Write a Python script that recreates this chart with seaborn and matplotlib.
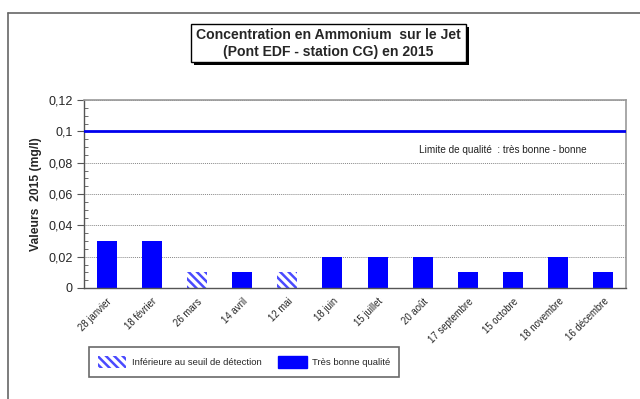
import matplotlib
matplotlib.use("Agg")
import matplotlib.pyplot as plt
import seaborn as sns
import pandas as pd
from matplotlib.patches import Rectangle, Patch
from matplotlib.lines import Line2D
from matplotlib.ticker import MultipleLocator, FixedLocator, FuncFormatter

dates = ["28 janvier", "18 février", "26 mars", "14 avril", "12 mai", "18 juin",
         "15 juillet", "20 août", "17 septembre", "15 octobre", "18 novembre", "16 décembre"]
values = [0.03, 0.03, 0.01, 0.01, 0.01, 0.02, 0.02, 0.02, 0.01, 0.01, 0.02, 0.01]
below_detection = [False, False, True, False, True, False, False, False, False, False, False, False]
limit_value = 0.1
title = "Concentration en Ammonium  sur le Jet\n(Pont EDF - station CG) en 2015"
ylabel = "Valeurs  2015 (mg/l)"
limit_label = "Limite de qualité  : très bonne - bonne"
legend_labels = ["Inférieure au seuil de détection", "Très bonne qualité"]

sns.set_style("white")
plt.rcParams["font.family"] = ["Liberation Sans", "DejaVu Sans"]
plt.rcParams["hatch.linewidth"] = 1.8

W, H = 640, 399
fig = plt.figure(figsize=(6.4, 3.99), dpi=100)

def fx(x):
    return x / W

def fy(y):
    return 1 - y / H

ax = fig.add_axes([fx(84), fy(288), fx(626) - fx(84), fy(100) - fy(288)])

df = pd.DataFrame({"date": dates, "value": values})
sns.barplot(data=df, x="date", y="value", ax=ax, color="#0000ff", width=0.44,
            saturation=1, errorbar=None)

for patch, below in zip(ax.patches, below_detection):
    patch.set_linewidth(0)
    if below:
        patch.set_facecolor("white")
        patch.set_hatch("\\\\\\\\")
        patch.set_edgecolor("#4a4aff")

ax.axhline(limit_value, color="#0000ee", lw=2, zorder=3)
ax.text(0.773, 0.734, limit_label, transform=ax.transAxes, ha="center", va="center",
        fontsize=7.2, color="#222222")

ax.set_ylim(0, 0.12)
ax.set_xlim(-0.5, len(dates) - 0.5)
ax.yaxis.set_major_locator(MultipleLocator(0.02))
ax.yaxis.set_minor_locator(MultipleLocator(0.005))
ax.yaxis.set_major_formatter(FuncFormatter(lambda v, p: "0" if abs(v) < 1e-9 else f"{v:.2f}".rstrip("0").replace(".", ",")))
ax.grid(axis="y", which="major", color="#888888", linestyle=(0, (1, 1)), lw=0.7)
ax.set_axisbelow(True)

ax.xaxis.set_major_locator(FixedLocator([i for i in range(len(dates))]))
ax.set_xticks([i for i in range(len(dates))])
ax.set_xticklabels(dates, rotation=45, ha="right", rotation_mode="anchor", fontsize=6.9)
ax.tick_params(axis="x", which="major", length=0, pad=6)
ax.set_xticks([i - 0.5 for i in range(len(dates) + 1)], minor=True)
ax.tick_params(axis="x", which="minor", length=4, direction="out", color="#555555", width=0.8)
ax.tick_params(axis="y", which="major", length=5, direction="out", color="#555555",
               labelsize=9, pad=3, left=True)
ax.tick_params(axis="y", which="minor", length=3, direction="in", color="#555555", left=True)

ax.set_xlabel("")
ax.set_ylabel(ylabel, fontsize=8.7, fontweight="bold", labelpad=5)
for s in ["top", "right"]:
    ax.spines[s].set_color("#999999")
    ax.spines[s].set_linewidth(1.2)
for s in ["left", "bottom"]:
    ax.spines[s].set_color("#555555")
    ax.spines[s].set_linewidth(1.0)

# figure frame
fig.add_artist(Line2D([fx(8), 1], [fy(13), fy(13)], color="#666666", lw=1.2))
fig.add_artist(Line2D([fx(8), fx(8)], [fy(13), 0], color="#666666", lw=1.2))

# title box with shadow
tx0, ty0, tx1, ty1 = 191, 24, 466, 62
fig.add_artist(Rectangle((fx(tx0 + 3), fy(ty1 + 3)), fx(tx1 - tx0), fy(ty0) - fy(ty1),
                         transform=fig.transFigure, facecolor="black", edgecolor="none"))
fig.add_artist(Rectangle((fx(tx0), fy(ty1)), fx(tx1 - tx0), fy(ty0) - fy(ty1),
                         transform=fig.transFigure, facecolor="white", edgecolor="black", lw=1))
fig.text(fx((tx0 + tx1) / 2), fy((ty0 + ty1) / 2 + 0.5), title, ha="center", va="center",
         fontsize=10.1, fontweight="bold", linespacing=1.2)

# legend
handles = [Patch(facecolor="white", edgecolor="#4a4aff", hatch="\\\\\\\\", lw=0),
           Patch(facecolor="#0000ff", edgecolor="#0000ff")]
leg = fig.legend(handles, legend_labels, ncol=2, loc="center",
                 bbox_to_anchor=(fx(244), fy(362)), fontsize=6.8, frameon=True,
                 fancybox=False, edgecolor="#444444", handlelength=3.0, handleheight=1.6,
                 columnspacing=1.8, borderpad=0.9, handletextpad=0.6)
leg.get_frame().set_linewidth(1.2)

fig.savefig("out.png", dpi=100)
